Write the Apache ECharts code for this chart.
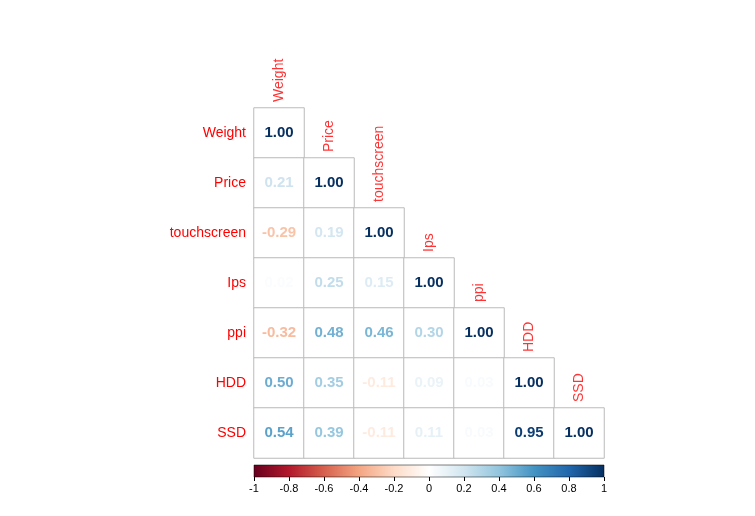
<!DOCTYPE html>
<html>
<head>
<meta charset="utf-8">
<script src="https://cdn.jsdelivr.net/npm/echarts@6/dist/echarts.min.js"></script>
<style>html,body{margin:0;background:#fff}#chart{width:755px;height:516px}</style>
</head>
<body>
<div id="chart"></div>
<script>
// correlation data (lower triangle, row by row)
const vars = ['Weight', 'Price', 'touchscreen', 'Ips', 'ppi', 'HDD', 'SSD'];
const corr = [
  [1.00],
  [0.21, 1.00],
  [-0.29, 0.19, 1.00],
  [0.02, 0.25, 0.15, 1.00],
  [-0.32, 0.48, 0.46, 0.30, 1.00],
  [0.50, 0.35, -0.11, 0.09, 0.03, 1.00],
  [0.54, 0.39, -0.11, 0.11, 0.03, 0.95, 1.00]
];
const barTicks = [-1, -0.8, -0.6, -0.4, -0.2, 0, 0.2, 0.4, 0.6, 0.8, 1];

const palette = ['#67001F', '#B2182B', '#D6604D', '#F4A582', '#FDDBC7', '#FFFFFF',
  '#D1E5F0', '#92C5DE', '#4393C3', '#2166AC', '#053061'];

function hex(c) { return [1, 3, 5].map(i => parseInt(c.substr(i, 2), 16)); }
function colorOf(v) {
  const t = (v + 1) / 2 * (palette.length - 1);
  const i = Math.min(Math.floor(t), palette.length - 2);
  const f = t - i;
  const a = hex(palette[i]), b = hex(palette[i + 1]);
  const m = a.map((x, k) => Math.round(x + (b[k] - x) * f));
  return `rgb(${m.join(',')})`;
}

const rows = [''].concat(vars);
const cells = [];
corr.forEach((r, i) => r.forEach((v, j) => {
  cells.push({
    value: [j, i + 1, v],
    label: { color: colorOf(v) }
  });
}));
const headers = vars.map((name, i) => ({ value: [i, i], name }));

const chart = echarts.init(document.getElementById('chart'));
chart.setOption({
  animation: false,
  textStyle: { fontFamily: 'Liberation Sans, Arial, sans-serif' },
  grid: [
    { left: 254, top: 58, width: 350, height: 400 },
    { left: 254, top: 465, width: 350, height: 12 }
  ],
  xAxis: [
    { type: 'category', data: vars, gridIndex: 0, show: false },
    {
      type: 'value', gridIndex: 1, min: -1, max: 1, interval: 0.2,
      axisLine: { show: false }, splitLine: { show: false },
      axisTick: { show: true, length: 4, lineStyle: { color: '#000' } },
      axisLabel: {
        color: '#000', fontSize: 11, margin: 6,
        formatter: v => barTicks.some(t => Math.abs(t - v) < 1e-6) ? String(Math.round(v * 10) / 10) : ''
      }
    }
  ],
  yAxis: [
    {
      type: 'category', data: rows, inverse: true, gridIndex: 0,
      axisLine: { show: false }, axisTick: { show: false },
      axisLabel: { color: '#ff0000', fontSize: 14, margin: 8 }
    },
    { type: 'value', gridIndex: 1, show: false, min: 0, max: 1 }
  ],
  graphic: [{
    type: 'rect',
    shape: { x: 254, y: 465, width: 350, height: 12 },
    style: {
      stroke: '#000', lineWidth: 0.5,
      fill: new echarts.graphic.LinearGradient(0, 0, 1, 0,
        palette.map((c, i) => ({ offset: i / (palette.length - 1), color: c })))
    },
    z: 10
  }],
  series: [
    {
      type: 'heatmap', xAxisIndex: 0, yAxisIndex: 0, data: cells,
      itemStyle: { color: '#fff', borderColor: '#bbbbbb', borderWidth: 1 },
      label: {
        show: true, fontSize: 15, fontWeight: 'bold',
        formatter: p => p.value[2].toFixed(2)
      }
    },
    {
      type: 'scatter', xAxisIndex: 0, yAxisIndex: 0, data: headers,
      symbol: 'rect', symbolSize: [50, 50], itemStyle: { color: 'rgba(0,0,0,0)' },
      silent: true,
      label: {
        show: true, formatter: p => p.name, color: '#ff0000', fontSize: 14,
        rotate: 90, position: [25, 44], align: 'left', verticalAlign: 'middle'
      }
    },
    { type: 'line', xAxisIndex: 1, yAxisIndex: 1, data: [] }
  ]
});
</script>
</body>
</html>
